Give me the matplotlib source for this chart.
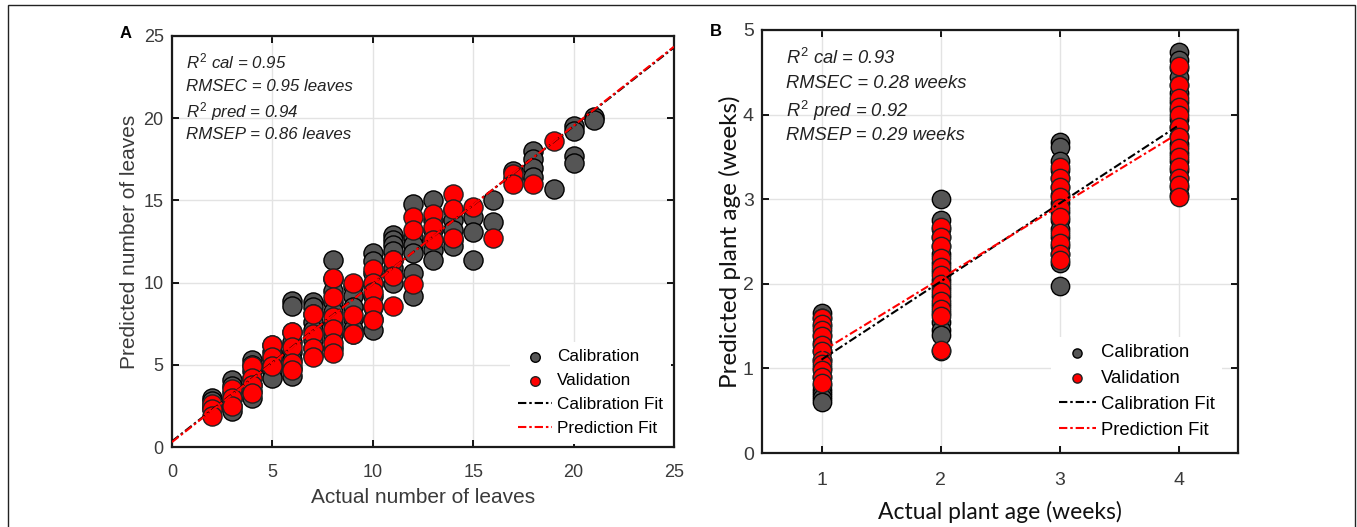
import numpy as np
import matplotlib
matplotlib.use('Agg')
import matplotlib.pyplot as plt
from matplotlib.patches import Rectangle

plt.rcParams['font.family'] = ['Liberation Sans', 'DejaVu Sans']
plt.rcParams['mathtext.fontset'] = 'custom'
plt.rcParams['mathtext.it'] = 'Liberation Sans:italic'
plt.rcParams['mathtext.rm'] = 'Liberation Sans'

# panel A : number of leaves
leaves_actual = [2, 3, 4, 5, 6, 7, 8, 9, 10, 11, 12, 13, 14, 15, 16, 17, 18, 19, 20, 21]
leaves_cal = [
    [3.0, 2.8, 2.5, 2.3],
    [4.1, 3.7, 3.3, 2.9, 2.5, 2.2],
    [5.3, 5.0, 4.6, 4.2, 3.8, 3.4, 3.0],
    [6.2, 5.8, 5.4, 5.0, 4.6, 4.2],
    [8.9, 8.6, 7.0, 6.4, 5.8, 5.3, 4.8, 4.3],
    [8.8, 8.5, 8.1, 7.6, 7.1, 6.5, 6.0, 5.6],
    [11.4, 10.2, 9.5, 8.8, 8.2, 7.5, 6.8, 6.0],
    [9.8, 9.2, 8.5, 7.8, 7.2, 6.9],
    [11.8, 11.3, 10.6, 9.9, 9.2, 8.5, 7.8, 7.1],
    [12.9, 12.6, 12.3, 11.9, 11.4, 10.9, 10.4, 10.0],
    [14.8, 12.8, 12.3, 11.8, 10.6, 9.2],
    [15.0, 13.8, 13.2, 12.6, 12.0, 11.4],
    [14.4, 13.8, 13.2, 12.6, 12.2],
    [14.0, 13.1, 11.4],
    [15.0, 13.7],
    [16.8, 16.3],
    [18.0, 17.5, 17.0, 16.4],
    [15.7],
    [19.5, 19.2, 17.7, 17.3],
    [20.1, 19.9],
]
leaves_val = [
    [2.6, 2.3, 1.9],
    [3.5, 3.0, 2.5],
    [4.9, 4.2, 3.8, 3.3],
    [6.2, 5.5, 4.9],
    [7.0, 6.1, 5.1, 4.7],
    [8.1, 6.9, 6.0, 5.5],
    [10.3, 9.1, 7.9, 7.2, 6.3, 5.7],
    [10.0, 8.0, 6.9],
    [10.8, 10.0, 9.4, 8.6, 7.7],
    [11.4, 10.4, 8.6],
    [14.0, 13.2, 9.9],
    [14.2, 13.4, 12.6],
    [15.4, 14.5, 12.7],
    [14.6],
    [12.7],
    [16.6, 16.0],
    [16.0],
    [18.6],
    [],
    [],
]
leaves_cal_fit = [0.958, 0.35]   # slope, intercept
leaves_pred_fit = [0.962, 0.30]
leaves_stats = ['$\\mathit{R}^\\mathit{2}$ cal = 0.95', 'RMSEC = 0.95 leaves',
                '$\\mathit{R}^\\mathit{2}$ pred = 0.94', 'RMSEP = 0.86 leaves']

# panel B : plant age
age_actual = [1, 2, 3, 4]
age_cal = [
    [1.65, 1.6, 1.5, 1.4, 1.3, 1.2, 1.1, 1.0, 0.9, 0.8, 0.75, 0.7, 0.65, 0.6],
    [3.0, 2.75, 2.65, 2.55, 2.45, 2.35, 2.25, 2.15, 2.05, 1.95, 1.85, 1.75, 1.65, 1.55, 1.45, 1.4, 1.2],
    [3.68, 3.62, 3.45, 3.35, 3.25, 3.15, 3.05, 2.95, 2.85, 2.75, 2.65, 2.55, 2.45, 2.35, 2.25, 1.97],
    [4.74, 4.65, 4.55, 4.45, 4.35, 4.25, 4.15, 4.05, 3.95, 3.85, 3.75, 3.65, 3.55, 3.45, 3.35, 3.25, 3.15, 3.05],
]
age_val = [
    [1.6, 1.52, 1.45, 1.38, 1.28, 1.2, 1.1, 1.05, 0.98, 0.9, 0.83],
    [2.67, 2.55, 2.45, 2.3, 2.2, 2.1, 2.0, 1.9, 1.8, 1.7, 1.62, 1.22],
    [3.38, 3.25, 3.15, 3.03, 2.9, 2.79, 2.6, 2.48, 2.35, 2.28],
    [4.57, 4.35, 4.2, 4.09, 4.0, 3.85, 3.74, 3.6, 3.5, 3.38, 3.25, 3.17, 3.03],
]
age_cal_fit = [0.923, 0.18]
age_pred_fit = [0.86, 0.34]
age_stats = ['$\\mathit{R}^\\mathit{2}$ cal = 0.93', 'RMSEC = 0.28 weeks',
             '$\\mathit{R}^\\mathit{2}$ pred = 0.92', 'RMSEP = 0.29 weeks']

GRAY = '#555555'
DASHDOT = (0, (4, 1.4, 1.2, 1.4))


def flatten(xs, groups):
    px, py = [], []
    for x, g in zip(xs, groups):
        px += [x] * len(g)
        py += g
    return px, py


def style_axes(ax, tick_color, tick_size):
    ax.grid(True, color='#e3e3e3', lw=1.0)
    ax.set_axisbelow(True)
    ax.tick_params(direction='in', top=True, right=True, length=5, width=1.3,
                   labelsize=tick_size, labelcolor=tick_color, pad=6)
    for s in ax.spines.values():
        s.set_linewidth(1.6)
        s.set_color('#1a1a1a')


fig = plt.figure(figsize=(13.57, 5.27), dpi=100)
fig.add_artist(Rectangle((8 / 1357, -0.05), 1347 / 1357, 1.05 - 5 / 527, transform=fig.transFigure,
                         fill=False, edgecolor='#222222', lw=1.0))

# ---- panel A
axA = fig.add_axes([172 / 1357, 1 - 447 / 527, 502 / 1357, 411 / 527])
cx, cy = flatten(leaves_actual, leaves_cal)
vx, vy = flatten(leaves_actual, leaves_val)
axA.scatter(cx, cy, s=190, c=GRAY, edgecolors='black', linewidths=1.0, zorder=3, label='Calibration')
axA.scatter(vx, vy, s=190, c='red', edgecolors='#222222', linewidths=1.0, zorder=4, label='Validation')
xl = np.array([0, 25])
axA.plot(xl, np.polyval(leaves_cal_fit, xl), color='black', lw=1.5, ls=DASHDOT, zorder=5, label='Calibration Fit')
axA.plot(xl, np.polyval(leaves_pred_fit, xl), color='red', lw=1.5, ls=DASHDOT, zorder=6, label='Prediction Fit')
axA.set_xlim(0, 25)
axA.set_ylim(0, 25)
axA.set_xticks(range(0, 26, 5))
axA.set_yticks(range(0, 26, 5))
style_axes(axA, '#3a3a3a', 13)
axA.tick_params(axis='x', pad=12)
axA.set_xlabel('Actual number of leaves', fontsize=15, color='#3a3a3a', labelpad=5)
axA.set_ylabel('Predicted number of leaves', fontsize=15, color='#3a3a3a', labelpad=3)
for t, yy in zip(leaves_stats, [0.920, 0.866, 0.803, 0.749]):
    axA.text(0.028, yy, t, transform=axA.transAxes, fontsize=12.2, style='italic', color='#222222')
legA = axA.legend(loc='lower right', bbox_to_anchor=(1.0, 0.0), fontsize=12.3, markerscale=0.5,
                  handlelength=2.0, handletextpad=0.3, labelspacing=0.52, frameon=True,
                  framealpha=1, facecolor='white', edgecolor='none', borderpad=0.45, borderaxespad=0.2)
legA.set_zorder(7)
fig.text(120 / 1357, 1 - 38 / 527, 'A', fontsize=12, fontweight='bold')

# ---- panel B
axB = fig.add_axes([762 / 1357, 1 - 453 / 527, 476 / 1357, 423 / 527])
cx, cy = flatten(age_actual, age_cal)
vx, vy = flatten(age_actual, age_val)
axB.scatter(cx, cy, s=175, c=GRAY, edgecolors='black', linewidths=1.0, zorder=3, label='Calibration')
axB.scatter(vx, vy, s=175, c='red', edgecolors='#222222', linewidths=1.0, zorder=4, label='Validation')
xl = np.array([1, 4])
axB.plot(xl, np.polyval(age_cal_fit, xl), color='black', lw=1.5, ls=DASHDOT, zorder=5, label='Calibration Fit')
axB.plot(xl, np.polyval(age_pred_fit, xl), color='red', lw=1.5, ls=DASHDOT, zorder=6, label='Prediction Fit')
axB.set_xlim(0.5, 4.5)
axB.set_ylim(0, 5)
axB.set_xticks(age_actual)
axB.set_yticks(range(0, 6))
style_axes(axB, '#3a3a3a', 14)
axB.tick_params(axis='x', pad=14)
axB.set_xlabel('Actual plant age (weeks)', fontsize=16.5, family=['Lato', 'DejaVu Sans'], color='#111111', labelpad=8)
axB.set_ylabel('Predicted plant age (weeks)', fontsize=17.5, family=['Lato', 'DejaVu Sans'], color='#111111', labelpad=1)
for t, yy in zip(age_stats, [0.920, 0.863, 0.794, 0.740]):
    axB.text(0.050, yy, t, transform=axB.transAxes, fontsize=13.2, style='italic', color='#222222')
legB = axB.legend(loc='lower right', bbox_to_anchor=(0.975, 0.008), fontsize=13.3, markerscale=0.5,
                  handlelength=2.0, handletextpad=0.3, labelspacing=0.47, frameon=True,
                  framealpha=1, facecolor='white', edgecolor='none', borderpad=0.4, borderaxespad=0.2)
legB.set_zorder(7)
fig.text(710 / 1357, 1 - 36 / 527, 'B', fontsize=12, fontweight='bold')

plt.savefig('out.png', dpi=100)
